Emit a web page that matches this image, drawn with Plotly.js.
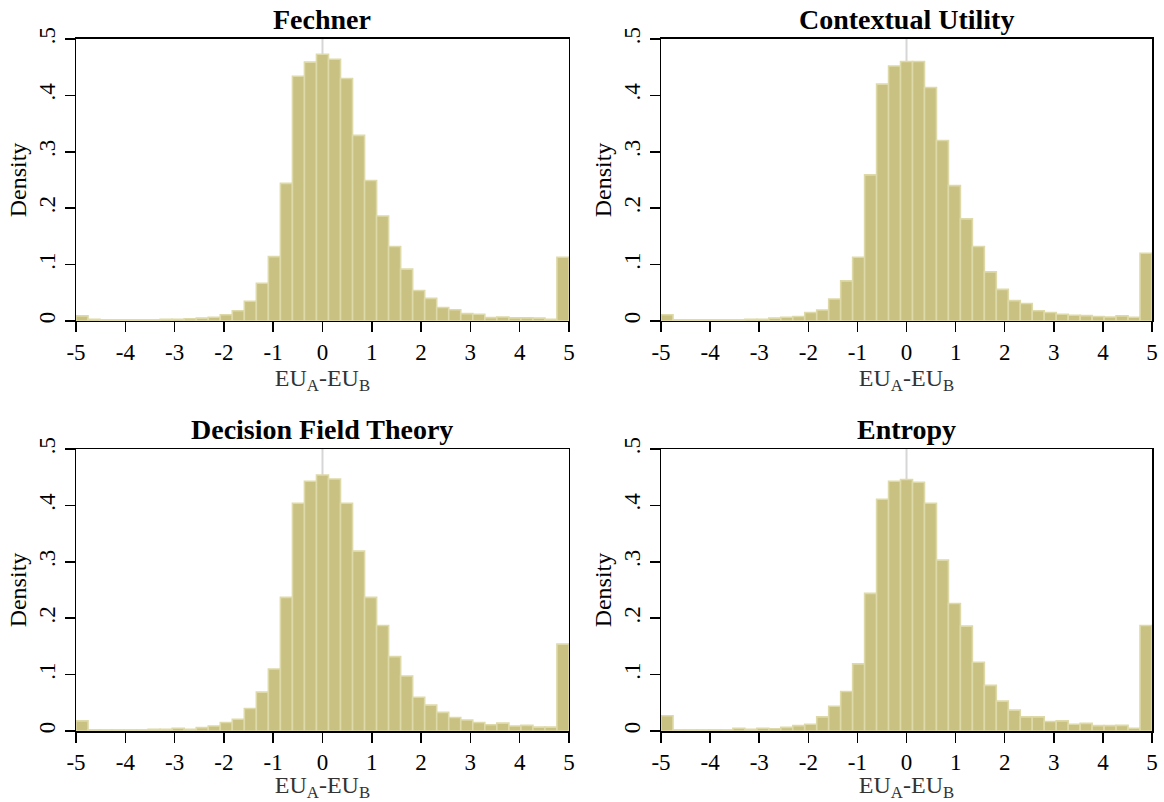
<!DOCTYPE html>
<html>
<head>
<meta charset="utf-8">
<script src="https://cdn.plot.ly/plotly-3.0.1.min.js"></script>
<style>html,body{margin:0;padding:0;background:#fff;}#chart{width:1164px;height:802px;}</style>
</head>
<body>
<div id="chart"></div>
<script>
// Histogram settings: 41 bins spanning -5 to 5
const binStart = -5;
const binEnd = 5;
const nBins = 41;

const panelTitles = ["Fechner", "Contextual Utility", "Decision Field Theory", "Entropy"];
const xTickVals = [-5, -4, -3, -2, -1, 0, 1, 2, 3, 4, 5];
const xTickText = ["-5", "-4", "-3", "-2", "-1", "0", "1", "2", "3", "4", "5"];
const yTickVals = [0, 0.1, 0.2, 0.3, 0.4, 0.5];
const yTickText = ["0", ".1", ".2", ".3", ".4", ".5"];

// Density per bin
const fechner = [0.009, 0.003, 0.002, 0.002, 0.002, 0.002, 0.002, 0.003, 0.003, 0.004,
  0.005, 0.0065, 0.011, 0.018, 0.035, 0.067, 0.114, 0.244, 0.434, 0.459,
  0.473, 0.464, 0.430, 0.329, 0.249, 0.186, 0.132, 0.092, 0.054, 0.040,
  0.024, 0.020, 0.013, 0.012, 0.006, 0.007, 0.0055, 0.0055, 0.005, 0.003, 0.113];
const contextual = [0.011, 0.002, 0.002, 0.002, 0.002, 0.002, 0.002, 0.003, 0.003, 0.005,
  0.0065, 0.008, 0.015, 0.0195, 0.039, 0.071, 0.113, 0.259, 0.420, 0.452,
  0.460, 0.460, 0.414, 0.320, 0.240, 0.181, 0.132, 0.087, 0.056, 0.036,
  0.031, 0.018, 0.015, 0.012, 0.010, 0.0095, 0.008, 0.007, 0.009, 0.0065, 0.120];
const dft = [0.018, 0.002, 0.002, 0.002, 0.002, 0.002, 0.003, 0.003, 0.005, 0.003,
  0.006, 0.009, 0.015, 0.021, 0.040, 0.069, 0.110, 0.237, 0.404, 0.443,
  0.454, 0.447, 0.404, 0.319, 0.237, 0.187, 0.132, 0.0975, 0.060, 0.046,
  0.033, 0.024, 0.0195, 0.015, 0.011, 0.014, 0.009, 0.010, 0.007, 0.007, 0.154];
const entropy = [0.027, 0.002, 0.002, 0.002, 0.002, 0.002, 0.005, 0.003, 0.005, 0.004,
  0.0065, 0.0095, 0.012, 0.025, 0.044, 0.070, 0.119, 0.244, 0.411, 0.443,
  0.446, 0.441, 0.404, 0.303, 0.226, 0.186, 0.122, 0.081, 0.053, 0.037,
  0.025, 0.025, 0.017, 0.018, 0.012, 0.0135, 0.0095, 0.0095, 0.010, 0.005, 0.187];

const series = [fechner, contextual, dft, entropy];

const binWidth = (binEnd - binStart) / nBins;
const barFill = "rgb(201,193,130)";
const barLine = "rgb(222,217,168)";
const fontFamily = "Liberation Serif, Times New Roman, serif";

const xDomains = [[0.0653, 0.4888], [0.5679, 0.9897], [0.0653, 0.4888], [0.5679, 0.9897]];
const yDomains = [[0.5998, 0.9514], [0.5998, 0.9514], [0.0885, 0.4401], [0.0885, 0.4401]];

const data = [];
const layout = {
  width: 1164, height: 802,
  margin: {l: 0, r: 0, t: 0, b: 0},
  paper_bgcolor: "#fff", plot_bgcolor: "#fff",
  showlegend: false,
  bargap: 0,
  font: {family: fontFamily, color: "#000", size: 23},
  shapes: [], annotations: []
};

series.forEach((vals, i) => {
  const n = i + 1;
  const xa = "x" + (n === 1 ? "" : n);
  const ya = "y" + (n === 1 ? "" : n);
  data.push({
    type: "bar",
    x0: binStart + binWidth / 2, dx: binWidth,
    y: vals,
    width: binWidth,
    xaxis: xa, yaxis: ya,
    marker: {color: barFill, line: {color: barLine, width: 1.6}},
    hoverinfo: "y"
  });
  const axCommon = {
    showgrid: false, zeroline: false,
    showline: true, linecolor: "#000", linewidth: 1.5, mirror: true,
    ticks: "outside", ticklen: 10, tickwidth: 1.5, tickcolor: "#000",
    tickfont: {family: fontFamily, size: 23, color: "#000"}
  };
  layout["xaxis" + (n === 1 ? "" : n)] = Object.assign({}, axCommon, {
    domain: xDomains[i], anchor: ya,
    range: [binStart, binEnd],
    tickmode: "array", tickvals: xTickVals, ticktext: xTickText,
    title: {text: "EU<sub>A</sub>-EU<sub>B</sub>", font: {family: fontFamily, size: 24, color: "#333"}, standoff: 0}
  });
  layout["yaxis" + (n === 1 ? "" : n)] = Object.assign({}, axCommon, {
    domain: yDomains[i], anchor: xa,
    range: [0, 0.5],
    tickmode: "array", tickvals: yTickVals, ticktext: yTickText,
    tickangle: -90,
    title: {text: "Density", font: {family: fontFamily, size: 24, color: "#000"}, standoff: 2}
  });
  layout.shapes.push({
    type: "line", layer: "below",
    xref: xa, yref: ya,
    x0: 0, x1: 0, y0: 0, y1: 0.5,
    line: {color: "#d6d6d6", width: 2}
  });
  layout.annotations.push({
    text: "<b>" + panelTitles[i] + "</b>",
    xref: "paper", yref: "paper",
    x: (xDomains[i][0] + xDomains[i][1]) / 2,
    y: yDomains[i][1], yshift: 2,
    xanchor: "center", yanchor: "bottom",
    showarrow: false,
    font: {family: fontFamily, size: 28, color: "#000"}
  });
});

Plotly.newPlot("chart", data, layout, {displayModeBar: false, staticPlot: true});
</script>
</body>
</html>
